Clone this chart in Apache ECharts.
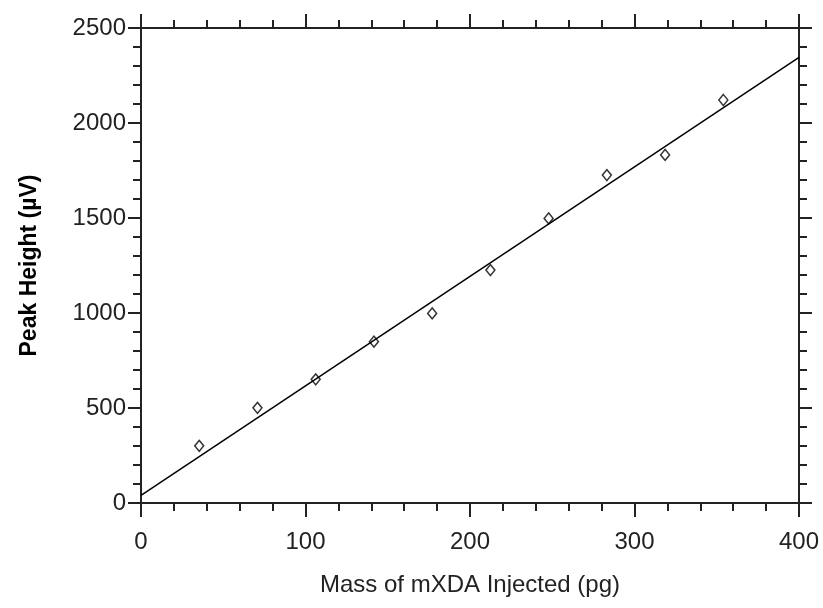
<!DOCTYPE html>
<html>
<head>
<meta charset="utf-8">
<script src="https://cdn.jsdelivr.net/npm/echarts@6/dist/echarts.min.js"></script>
<style>
html,body{margin:0;padding:0;background:#fff;}
#chart{width:823px;height:608px;}
</style>
</head>
<body>
<div id="chart"></div>
<script>
// Data
var massPg = [35.4, 70.8, 106.2, 141.6, 177, 212.4, 247.8, 283.2, 318.6, 354];
var peakHeight = [301, 501, 651, 849, 998, 1226, 1498, 1726, 1832, 2121];
var fitX = [0, 400];
var fitY = [40, 2345];
var xTicks = [0, 100, 200, 300, 400];
var yTicks = [0, 500, 1000, 1500, 2000, 2500];

var font = 'Liberation Sans, Arial, sans-serif';
var axisColor = '#222';
var textColor = '#222';

var chart = echarts.init(document.getElementById('chart'), null, {renderer: 'canvas'});

function plain(v) { return String(v); }

function xAxisDef(pos, showLabel) {
  return {
    type: 'value', position: pos, min: xTicks[0], max: xTicks[xTicks.length - 1], interval: 100,
    name: showLabel ? 'Mass of mXDA Injected (pg)' : '',
    nameLocation: 'middle', nameGap: 70,
    nameTextStyle: {fontFamily: font, fontSize: 24, color: textColor},
    axisLine: {show: true, onZero: false, lineStyle: {color: axisColor, width: 2}},
    axisTick: {show: true, inside: false, length: 14, lineStyle: {color: axisColor, width: 2}},
    minorTick: {show: true, splitNumber: 5, length: 8, lineStyle: {color: axisColor, width: 2}},
    axisLabel: {show: showLabel, margin: 27, fontFamily: font, fontSize: 24, color: textColor, formatter: plain},
    splitLine: {show: false}
  };
}
function yAxisDef(pos, showLabel) {
  return {
    type: 'value', position: pos, min: yTicks[0], max: yTicks[yTicks.length - 1], interval: 500,
    name: showLabel ? 'Peak Height (µV)' : '',
    nameLocation: 'middle', nameGap: 100, nameRotate: 90,
    nameTextStyle: {fontFamily: font, fontSize: 23, fontWeight: 'bold', color: '#000'},
    axisLine: {show: true, onZero: false, lineStyle: {color: axisColor, width: 2}},
    axisTick: {show: true, inside: false, length: 13, lineStyle: {color: axisColor, width: 2}},
    minorTick: {show: true, splitNumber: 5, length: 8, lineStyle: {color: axisColor, width: 2}},
    axisLabel: {show: showLabel, margin: 15, fontFamily: font, fontSize: 24, color: textColor, formatter: plain},
    splitLine: {show: false}
  };
}

chart.setOption({
  animation: false,
  backgroundColor: '#fff',
  grid: {left: 141, right: 24, top: 28, bottom: 105, containLabel: false},
  xAxis: [xAxisDef('bottom', true), xAxisDef('top', false)],
  yAxis: [yAxisDef('left', true), yAxisDef('right', false)],
  series: [
    {
      type: 'line',
      data: fitX.map(function (x, i) { return [x, fitY[i]]; }),
      showSymbol: false,
      lineStyle: {color: '#000', width: 1.5},
      z: 2
    },
    {
      type: 'scatter',
      data: massPg.map(function (x, i) { return [x, peakHeight[i]]; }),
      symbol: 'diamond',
      symbolSize: [9, 11],
      itemStyle: {color: 'rgba(0,0,0,0)', borderColor: '#000', borderWidth: 1.5},
      z: 3
    }
  ]
});
</script>
</body>
</html>
